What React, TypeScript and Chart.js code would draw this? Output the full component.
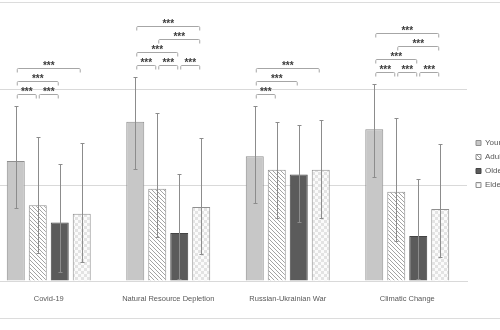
import React, { useEffect, useRef } from 'react';
import { Chart, registerables } from 'chart.js';

Chart.register(...registerables);

// ---------- data ----------
const categories = ['Covid-19', 'Natural Resource Depletion', 'Russian-Ukrainian War', 'Climatic Change'];
const seriesNames = ['Young Adults', 'Adults', 'Older Adults', 'Elderly'];

const youngValues = [1.25, 1.66, 1.30, 1.58];
const adultValues = [0.79, 0.96, 1.16, 0.93];
const olderValues = [0.61, 0.50, 1.11, 0.47];
const elderValues = [0.70, 0.77, 1.16, 0.75];

const youngErrUp = [0.57, 0.46, 0.52, 0.47];
const adultErrUp = [0.71, 0.79, 0.50, 0.77];
const olderErrUp = [0.61, 0.61, 0.51, 0.59];
const elderErrUp = [0.74, 0.72, 0.52, 0.68];

const youngErrDown = [0.49, 0.49, 0.49, 0.50];
const adultErrDown = [0.50, 0.50, 0.50, 0.51];
const olderErrDown = [0.52, 0.48, 0.50, 0.45];
const elderErrDown = [0.50, 0.49, 0.50, 0.50];

const yTickValues = [0, 1, 2, 3];

// significance comparisons: [category, fromSeries, toSeries, stackLevel]
const comparisons = [
  [0, 0, 1, 0], [0, 1, 2, 0], [0, 0, 2, 1], [0, 0, 3, 2],
  [1, 0, 1, 0], [1, 1, 2, 0], [1, 2, 3, 0], [1, 0, 2, 1], [1, 1, 3, 2], [1, 0, 3, 3],
  [2, 0, 1, 0], [2, 0, 2, 1], [2, 0, 3, 2],
  [3, 0, 1, 0], [3, 1, 2, 0], [3, 2, 3, 0], [3, 0, 2, 1], [3, 1, 3, 2], [3, 0, 3, 3],
];
const sigLabel = '***';

const errUp = [youngErrUp, adultErrUp, olderErrUp, elderErrUp];
const errDown = [youngErrDown, adultErrDown, olderErrDown, elderErrDown];

const FONT = '"Liberation Sans", Arial, sans-serif';

function makePattern(kind: string): CanvasPattern | string {
  const c = document.createElement('canvas');
  const ctx = c.getContext('2d');
  if (!ctx) return '#ffffff';
  if (kind === 'hatch') {
    c.width = 4; c.height = 4;
    ctx.fillStyle = '#ffffff';
    ctx.fillRect(0, 0, 4, 4);
    ctx.strokeStyle = '#a3a3a3';
    ctx.lineWidth = 1;
    ctx.beginPath();
    ctx.moveTo(-1, -1); ctx.lineTo(5, 5);
    ctx.moveTo(3, -1); ctx.lineTo(5, 1);
    ctx.moveTo(-1, 3); ctx.lineTo(1, 5);
    ctx.stroke();
  } else {
    c.width = 6; c.height = 6;
    ctx.fillStyle = '#fbfbfb';
    ctx.fillRect(0, 0, 6, 6);
    ctx.fillStyle = '#e3e3e3';
    ctx.fillRect(0, 0, 3, 3);
    ctx.fillRect(3, 3, 3, 3);
  }
  return ctx.createPattern(c, 'repeat') || '#ffffff';
}

const annotationPlugin = {
  id: 'errorsAndSignificance',
  afterDatasetsDraw(chart: any) {
    const ctx = chart.ctx;
    const y = chart.scales.y;
    ctx.save();
    // error bars
    ctx.strokeStyle = '#8c8c8c';
    ctx.lineWidth = 1;
    const tops: number[] = categories.map(() => Infinity);
    chart.data.datasets.forEach((ds: any, i: number) => {
      const meta = chart.getDatasetMeta(i);
      meta.data.forEach((bar: any, j: number) => {
        const v = ds.data[j];
        const top = Math.round(y.getPixelForValue(v + errUp[i][j])) + 0.5;
        const bot = Math.round(y.getPixelForValue(v - errDown[i][j])) + 0.5;
        tops[j] = Math.min(tops[j], top);
        const x = Math.round(bar.x) + 0.5;
        ctx.beginPath();
        ctx.moveTo(x, top); ctx.lineTo(x, bot);
        ctx.moveTo(x - 2, top); ctx.lineTo(x + 2, top);
        ctx.moveTo(x - 2, bot); ctx.lineTo(x + 2, bot);
        ctx.stroke();
      });
    });
    // significance brackets
    ctx.font = `bold 10px ${FONT}`;
    ctx.textAlign = 'center';
    ctx.textBaseline = 'alphabetic';
    comparisons.forEach(([c, a, b, level]) => {
      const xa = chart.getDatasetMeta(a).data[c].x + 1.5;
      const xb = chart.getDatasetMeta(b).data[c].x - 1.5;
      const yy = Math.round(tops[c] - 12.5 - level * 13) + 0.5;
      ctx.strokeStyle = '#a6a6a6';
      ctx.beginPath();
      ctx.moveTo(xa, yy + 4);
      ctx.lineTo(xa, yy + 1);
      ctx.quadraticCurveTo(xa, yy, xa + 1, yy);
      ctx.lineTo(xb - 1, yy);
      ctx.quadraticCurveTo(xb, yy, xb, yy + 1);
      ctx.lineTo(xb, yy + 4);
      ctx.stroke();
      ctx.fillStyle = '#3c3c3c';
      ctx.fillText(sigLabel, (xa + xb) / 2, yy);
    });
    ctx.restore();
  },
};

export default function App() {
  const ref = useRef<HTMLCanvasElement | null>(null);

  useEffect(() => {
    if (!ref.current) return;
    const hatch = makePattern('hatch');
    const check = makePattern('check');
    const chart = new Chart(ref.current, {
      type: 'bar',
      data: {
        labels: categories,
        datasets: [
          { label: seriesNames[0], data: youngValues, backgroundColor: '#c7c7c7', borderColor: '#8f8f8f', borderWidth: 1 },
          { label: seriesNames[1], data: adultValues, backgroundColor: hatch, borderColor: '#8f8f8f', borderWidth: 1 },
          { label: seriesNames[2], data: olderValues, backgroundColor: '#5b5b5b', borderColor: '#444444', borderWidth: 1 },
          { label: seriesNames[3], data: elderValues, backgroundColor: check, borderColor: '#8f8f8f', borderWidth: 1 },
        ],
      },
      options: {
        responsive: false,
        animation: false,
        devicePixelRatio: 1,
        categoryPercentage: 0.736,
        barPercentage: 0.818,
        layout: { padding: { left: 19, top: 13, right: 0, bottom: 0 } },
        plugins: {
          tooltip: { enabled: false },
          legend: {
            position: 'right',
            align: 'center',
            maxWidth: 60,
            labels: {
              boxWidth: 5,
              boxHeight: 5,
              padding: 6,
              color: '#595959',
              font: { size: 8, family: FONT },
            },
          },
        },
        scales: {
          x: {
            grid: { display: false },
            border: { display: true, color: '#d9d9d9' },
            ticks: {
              color: '#595959',
              font: { size: 7.5, family: FONT },
              padding: 5,
              maxRotation: 0,
              autoSkip: false,
            },
            afterFit: (s: any) => { s.height = 54; },
          },
          y: {
            min: yTickValues[0],
            max: yTickValues[yTickValues.length - 1],
            afterBuildTicks: (s: any) => { s.ticks = yTickValues.map((v) => ({ value: v })); },
            grid: { color: '#d9d9d9', drawTicks: false },
            border: { display: false },
            ticks: { display: false },
            afterFit: (s: any) => { s.width = 0; },
          },
          yR: {
            type: 'linear',
            position: 'right',
            display: true,
            grid: { display: false, drawTicks: false },
            border: { display: false },
            ticks: { display: false },
            afterFit: (s: any) => { s.width = 3; },
          },
        },
      },
      plugins: [annotationPlugin],
    } as any);
    return () => chart.destroy();
  }, []);

  return (
    <div style={{ position: 'fixed', left: 0, top: 0, width: 500, height: 330, overflow: 'hidden', background: '#ffffff' }}>
      <div style={{ position: 'absolute', left: -2, top: 2, width: 504, height: 315, border: '1px solid #dcdcdc' }} />
      <div style={{ position: 'absolute', left: -30, top: -20, width: 560, height: 355 }}>
        <canvas ref={ref} width={560} height={355} style={{ width: 560, height: 355, display: 'block' }} />
      </div>
    </div>
  );
}
